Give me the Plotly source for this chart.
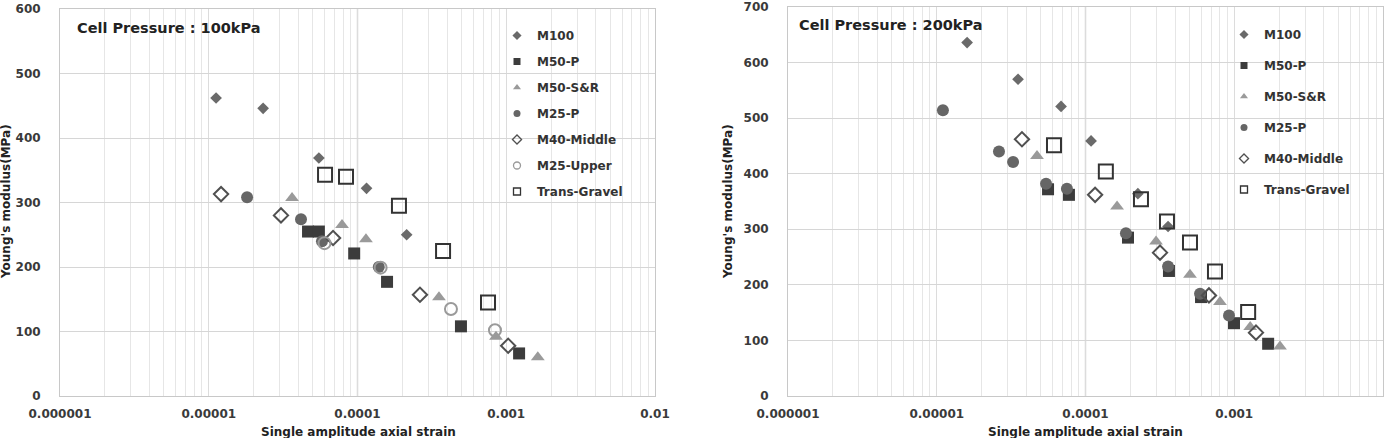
import plotly.graph_objects as go

# ---------------- data: Cell Pressure 100 kPa ----------------
L_M100_x = [1.12e-5, 2.32e-5, 5.5e-5, 1.15e-4, 2.14e-4]
L_M100_y = [462, 446, 369, 322, 250]
L_M50P_x = [4.65e-5, 5.5e-5, 9.5e-5, 1.58e-4, 4.96e-4, 1.22e-3]
L_M50P_y = [255, 255, 221, 177, 108, 66]
L_M50SR_x = [3.63e-5, 7.87e-5, 1.14e-4, 3.53e-4, 8.53e-4, 1.63e-3]
L_M50SR_y = [307, 265, 243, 153, 92, 60]
L_M25P_x = [1.81e-5, 4.17e-5, 5.77e-5, 1.39e-4]
L_M25P_y = [308, 274, 240, 200]
L_M40M_x = [1.21e-5, 3.06e-5, 6.85e-5, 2.63e-4, 1.03e-3]
L_M40M_y = [313, 280, 245, 157, 78]
L_M25U_x = [6.0e-5, 1.43e-4, 4.25e-4, 8.4e-4]
L_M25U_y = [237, 199, 135, 102]
L_TG_x = [6.05e-5, 8.37e-5, 1.9e-4, 3.76e-4, 7.54e-4]
L_TG_y = [343, 340, 295, 225, 145]

# ---------------- data: Cell Pressure 200 kPa ----------------
R_M100_x = [1.6e-5, 3.52e-5, 6.85e-5, 1.09e-4, 2.25e-4, 3.59e-4]
R_M100_y = [636, 570, 521, 459, 364, 305]
R_M50P_x = [5.6e-5, 7.74e-5, 1.93e-4, 3.64e-4, 5.98e-4, 9.96e-4, 1.69e-3]
R_M50P_y = [372, 362, 285, 225, 178, 131, 94]
R_M50SR_x = [4.72e-5, 1.63e-4, 2.98e-4, 5.04e-4, 8.02e-4, 1.28e-3, 2.03e-3]
R_M50SR_y = [432, 341, 278, 218, 169, 124, 89]
R_M25P_x = [1.1e-5, 2.62e-5, 3.26e-5, 5.43e-5, 7.5e-5, 1.87e-4, 3.59e-4, 5.89e-4, 9.22e-4]
R_M25P_y = [514, 440, 421, 382, 373, 293, 233, 184, 145]
R_M40M_x = [3.74e-5, 1.16e-4, 3.17e-4, 6.76e-4, 1.4e-3]
R_M40M_y = [462, 362, 258, 181, 114]
R_TG_x = [6.14e-5, 1.37e-4, 2.36e-4, 3.53e-4, 5.04e-4, 7.42e-4, 1.24e-3]
R_TG_y = [451, 404, 354, 314, 276, 224, 151]

X_TICKS = [1e-6, 1e-5, 1e-4, 1e-3, 1e-2]
X_TICKTEXT = ["0.000001", "0.00001", "0.0001", "0.001", "0.01"]
X_MARK_LINE = 1e-4
Y_TITLE = "Young's modulus(MPa)"
X_TITLE = "Single amplitude axial strain"
TITLES = ["Cell Pressure : 100kPa", "Cell Pressure : 200kPa"]

FONT = "DejaVu Sans, Verdana, sans-serif"

styles = {
    "M100": dict(symbol="diamond", size=9, color="#6a6a6a", line=dict(width=0)),
    "M50-P": dict(symbol="square", size=12, color="#3c3c3c", line=dict(width=0)),
    "M50-S&R": dict(symbol="triangle-up", size=12, color="#9a9a9a", line=dict(width=0)),
    "M25-P": dict(symbol="circle", size=12, color="#666666", line=dict(width=0)),
    "M40-Middle": dict(symbol="diamond-open", size=11, color="#505050", line=dict(width=2)),
    "M25-Upper": dict(symbol="circle-open", size=12, color="#9a9a9a", line=dict(width=2)),
    "Trans-Gravel": dict(symbol="square-open", size=14, color="#333333", line=dict(width=2)),
}

fig = go.Figure()

left = [("M100", L_M100_x, L_M100_y), ("M50-P", L_M50P_x, L_M50P_y),
        ("M50-S&R", L_M50SR_x, L_M50SR_y), ("M25-P", L_M25P_x, L_M25P_y),
        ("M40-Middle", L_M40M_x, L_M40M_y), ("M25-Upper", L_M25U_x, L_M25U_y),
        ("Trans-Gravel", L_TG_x, L_TG_y)]
right = [("M100", R_M100_x, R_M100_y), ("M50-P", R_M50P_x, R_M50P_y),
         ("M50-S&R", R_M50SR_x, R_M50SR_y), ("M25-P", R_M25P_x, R_M25P_y),
         ("M40-Middle", R_M40M_x, R_M40M_y), ("Trans-Gravel", R_TG_x, R_TG_y)]


def legend_marker(name):
    m = dict(styles[name])
    m["size"] = 7
    if "open" in m["symbol"]:
        m["line"] = dict(width=1.3)
    return m


for series, xa, ya, lg, pre in ((left, "x", "y", "legend", "L"), (right, "x2", "y2", "legend2", "R")):
    for i, (name, xs, ys) in enumerate(series):
        grp = pre + str(i)
        fig.add_trace(go.Scatter(x=xs, y=ys, mode="markers", name=name,
                                 marker=styles[name], xaxis=xa, yaxis=ya,
                                 showlegend=False, legendgroup=grp))
        # legend entry (small marker, like the original legend)
        fig.add_trace(go.Scatter(x=[None], y=[None], mode="markers", name=name,
                                 marker=legend_marker(name), xaxis=xa, yaxis=ya,
                                 legend=lg, legendgroup=grp, showlegend=True))

W, H = 1387, 438
minor_vals = [k * 10 ** e for e in range(-6, -2) for k in range(2, 10)]


def xaxis(domain, anchor):
    return dict(domain=domain, anchor=anchor, type="log", range=[-6, -2],
                tickvals=X_TICKS, ticktext=X_TICKTEXT, automargin=False,
                tickfont=dict(family=FONT, size=12, color="#3a3a3a", weight="bold"),
                showgrid=True, gridcolor="#dcdcdc", gridwidth=1,
                minor=dict(tickvals=minor_vals, showgrid=True, gridcolor="#e6e6e6", ticks=""),
                showline=True, linecolor="#c8c8c8", mirror=True, ticks="",
                zeroline=False, ticklabelstandoff=7)


def yaxis(domain, anchor, top):
    return dict(domain=domain, anchor=anchor, range=[0, top], dtick=100, automargin=False,
                tickfont=dict(family=FONT, size=12, color="#3a3a3a", weight="bold"),
                showgrid=True, gridcolor="#d6d6d6", gridwidth=1,
                showline=True, linecolor="#c8c8c8", mirror=True, ticks="",
                zeroline=False, ticklabelstandoff=16)


legend_common = dict(xanchor="left", yanchor="top", bgcolor="rgba(0,0,0,0)",
                     itemsizing="trace",
                     font=dict(family=FONT, size=12, color="#333", weight="bold"))

fig.update_layout(
    width=W, height=H, margin=dict(l=0, r=0, t=0, b=0, autoexpand=False),
    paper_bgcolor="white", plot_bgcolor="white",
    font=dict(family=FONT, color="#333"),
    xaxis=xaxis([60 / W, 655 / W], "y"),
    yaxis=yaxis([(H - 396) / H, (H - 9) / H], "x", 600),
    xaxis2=xaxis([788 / W, 1383 / W], "y2"),
    yaxis2=yaxis([(H - 396) / H, (H - 7) / H], "x2", 700),
    legend=dict(x=497 / W, y=1 - 21 / H, tracegroupgap=7, **legend_common),
    legend2=dict(x=1224 / W, y=1 - 20 / H, tracegroupgap=12, **legend_common),
    showlegend=True,
)

for xr, yr in (("x", "y"), ("x2", "y2")):
    fig.add_shape(type="line", xref=xr, yref=yr + " domain", x0=X_MARK_LINE, x1=X_MARK_LINE,
                  y0=0, y1=1, line=dict(color="#9a9a9a", width=1.2), layer="below")

for text, xp, yp in ((TITLES[0], 75, 28), (TITLES[1], 797, 25)):
    fig.add_annotation(text=text, x=xp / W, y=1 - yp / H, xref="paper", yref="paper",
                       xanchor="left", yanchor="middle", showarrow=False,
                       font=dict(family=FONT, size=14.5, color="#222", weight="bold"))

for xc in (358, 1085):
    fig.add_annotation(text=X_TITLE, x=xc / W, y=1 - 432 / H, xref="paper", yref="paper",
                       xanchor="center", yanchor="middle", showarrow=False,
                       font=dict(family=FONT, size=12, color="#222", weight="bold"))
for xc in (6, 728):
    fig.add_annotation(text=Y_TITLE, x=xc / W, y=1 - 202 / H, xref="paper", yref="paper",
                       xanchor="center", yanchor="middle", showarrow=False, textangle=-90,
                       font=dict(family=FONT, size=12, color="#222", weight="bold"))

fig.write_html("out.html")
